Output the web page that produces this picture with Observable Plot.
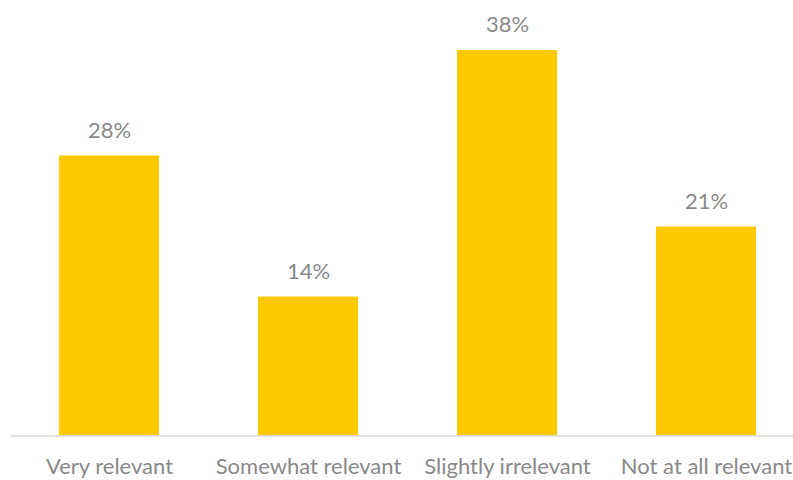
<!DOCTYPE html>
<html>
<head>
<meta charset="utf-8">
<script src="https://cdn.jsdelivr.net/npm/d3@7"></script>
<script src="https://cdn.jsdelivr.net/npm/@observablehq/plot@0.6"></script>
<style>
  html, body { margin: 0; padding: 0; background: #fff; }
</style>
</head>
<body>
<div id="chart"></div>
<script>
const categories = ["Very relevant", "Somewhat relevant", "Slightly irrelevant", "Not at all relevant"];
const values = [0.276, 0.137, 0.380, 0.206];

const data = categories.map((c, i) => ({category: c, value: values[i]}));

const chart = Plot.plot({
  width: 793,
  height: 480,
  marginLeft: 10,
  marginRight: 0,
  marginTop: 0,
  marginBottom: 44.5,
  style: {fontFamily: "Lato, sans-serif", color: "#898989", background: "#fff"},
  x: {domain: categories, range: [9, 805], paddingInner: 0.5, paddingOuter: 0.25, label: null},
  y: {domain: [0, 0.40], range: [435.5, 29.7], axis: null},
  marks: [
    Plot.barY(data, {x: "category", y: "value", fill: "#FFC900"}),
    Plot.ruleY([0], {stroke: "#d9d9d9", strokeWidth: 1.5}),
    Plot.text(data, {x: "category", y: "value", text: d => Math.round(d.value * 100) + "%",
      lineAnchor: "bottom", dy: -18, fontSize: 22, fill: "#898989"}),
    Plot.axisX({tickSize: 0, tickPadding: 22, fontSize: 22, label: null})
  ]
});
document.getElementById("chart").appendChild(chart);
</script>
</body>
</html>
